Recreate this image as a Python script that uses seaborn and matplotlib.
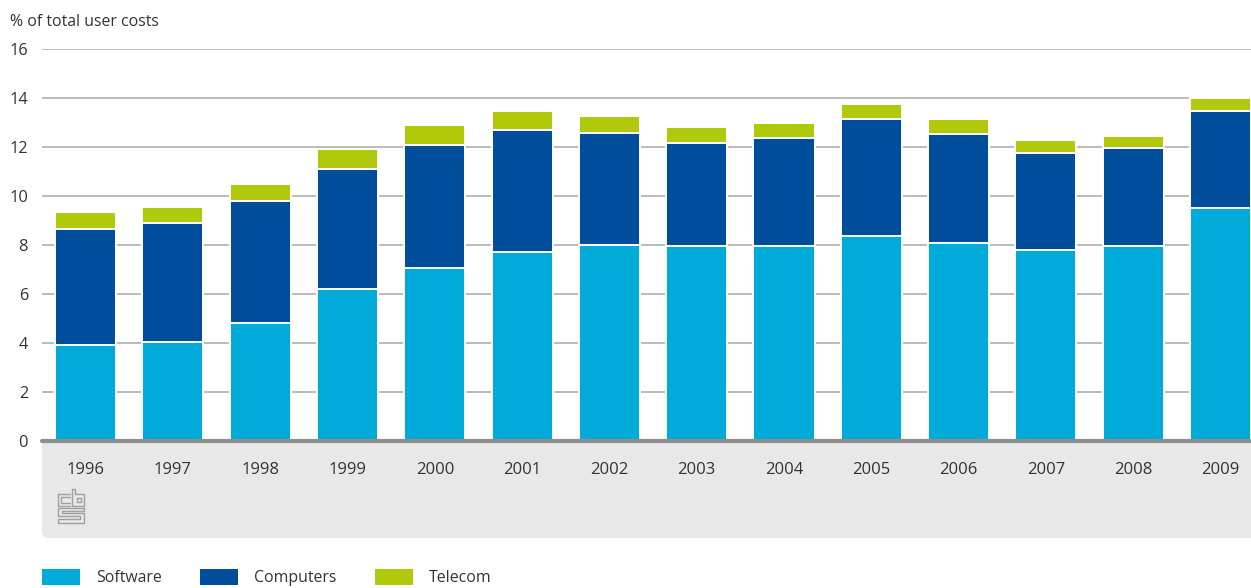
import numpy as np
import pandas as pd
import matplotlib
matplotlib.use("Agg")
import matplotlib.pyplot as plt
import seaborn as sns
from matplotlib.patches import FancyBboxPatch, Patch
from matplotlib.lines import Line2D
from matplotlib.transforms import IdentityTransform

# ICT user costs as a share of total user costs, per year
years = [1996, 1997, 1998, 1999, 2000, 2001, 2002, 2003, 2004, 2005, 2006, 2007, 2008, 2009]
software = [3.9, 4.05, 4.8, 6.2, 7.05, 7.7, 8.0, 7.95, 7.95, 8.35, 8.1, 7.8, 7.95, 9.5]
computers = [4.75, 4.83, 5.0, 4.9, 5.05, 5.0, 4.58, 4.2, 4.4, 4.8, 4.45, 3.95, 4.0, 3.95]
telecom = [0.7, 0.67, 0.7, 0.8, 0.8, 0.78, 0.7, 0.67, 0.63, 0.62, 0.58, 0.53, 0.5, 0.56]
series_names = ["Software", "Computers", "Telecom"]
y_ticks = [0, 2, 4, 6, 8, 10, 12, 14, 16]

SOFT = "#00abd9"
COMP = "#004d9b"
TEL = "#b0ca0b"
TEXT = "#333333"

W, H = 1251, 588
sns.set_theme(style="white")
plt.rcParams["font.family"] = ["Open Sans", "DejaVu Sans"]

fig = plt.figure(figsize=(W / 100, H / 100), dpi=100)
fig.patch.set_facecolor("white")

# light grey band under the category axis, rounded at the lower left
band = FancyBboxPatch((42, H - 538), W - 42 + 30, 538 - 425,
                      boxstyle="round,pad=0,rounding_size=7",
                      transform=IdentityTransform(), facecolor="#e8e8e8",
                      edgecolor="none", zorder=-5)
fig.add_artist(band)

ax = fig.add_axes([42 / W, 1 - 441 / H, 1 - 42 / W, (441 - 49) / H])
ax.set_facecolor("white")

df = pd.DataFrame({
    "year": [str(y) for y in years],
    "Software": software,
    "Computers": computers,
    "Telecom": telecom,
})
df["upto_computers"] = df["Software"] + df["Computers"]
df["total"] = df["upto_computers"] + df["Telecom"]

# stacked bars drawn as overlapping cumulative totals
for col, color in [("total", TEL), ("upto_computers", COMP), ("Software", SOFT)]:
    sns.barplot(data=df, x="year", y=col, color=color, saturation=1,
                width=0.7, edgecolor="white", linewidth=1.4, ax=ax, zorder=2)

ax.set_ylim(0, 16)
ax.set_xlim(-0.5, 13.35)
ax.set_yticks(y_ticks)
ax.set_axisbelow(True)
ax.yaxis.grid(True, color="#a8a8a8", linewidth=1.1)
ax.xaxis.grid(False)
for s in ax.spines.values():
    s.set_visible(False)
ax.axhline(0, color="#8e8e8e", linewidth=3.0, zorder=4, clip_on=False)

ax.set_xlabel("")
ax.set_ylabel("")
ax.tick_params(axis="y", length=0, pad=10, labelsize=11.8, labelcolor=TEXT)
ax.tick_params(axis="x", length=0, pad=15, labelsize=12, labelcolor=TEXT)

fig.text(10 / W, 1 - 22 / H, "% of total user costs", fontsize=11.4,
         color=TEXT, va="center", ha="left")

# small grey line logo in the band
logo_paths = [
    [(70, 494), (58, 494), (58, 506), (70, 506)],
    [(70, 497), (61, 497), (61, 503), (70, 503)],
    [(72, 489), (72, 506), (84, 506), (84, 494), (75, 494), (75, 489), (72, 489)],
    [(77, 498), (81, 498), (81, 502), (77, 502), (77, 498)],
    [(84, 508), (58, 508), (58, 516), (80, 516), (80, 519), (58, 519),
     (58, 523), (84, 523), (84, 513), (62, 513), (62, 511), (84, 511), (84, 508)],
]
for path in logo_paths:
    xs = [p[0] for p in path]
    ys = [H - p[1] for p in path]
    fig.add_artist(Line2D(xs, ys, transform=IdentityTransform(),
                          color="#a0a0a0", linewidth=1.0))

handles = [Patch(facecolor=c, edgecolor="none") for c in (SOFT, COMP, TEL)]
fig.legend(handles, series_names, loc="upper left",
           bbox_to_anchor=(42 / W, 1 - 569 / H), ncol=3, frameon=False,
           fontsize=11.4, handlelength=2.4, handleheight=1.2,
           handletextpad=1.0, columnspacing=2.45, borderpad=0,
           borderaxespad=0, labelcolor=TEXT)

fig.savefig("out.png", dpi=100)
